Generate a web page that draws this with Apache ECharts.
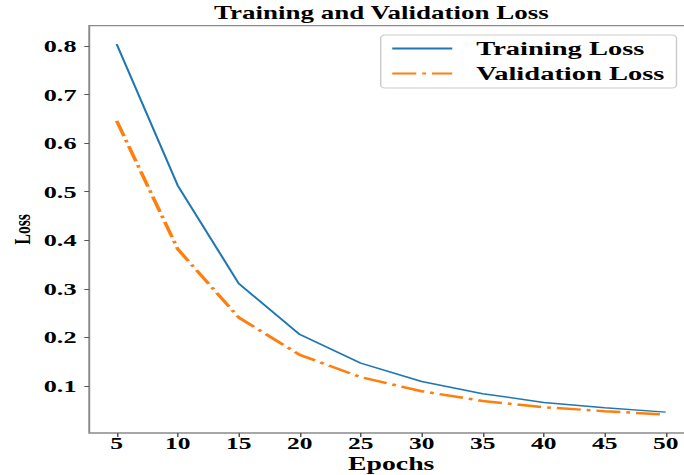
<!DOCTYPE html>
<html>
<head>
<meta charset="utf-8">
<script src="https://cdn.jsdelivr.net/npm/echarts@6/dist/echarts.min.js"></script>
<style>
html,body{margin:0;padding:0;background:#fff;overflow:hidden;width:684px;height:475px}
#wrap{width:684px;height:475px;overflow:hidden;position:relative;background:#fff}
#c{width:456px;height:475px;transform:scaleX(1.5);transform-origin:0 0}
</style>
</head>
<body>
<div id="wrap"><div id="c"></div></div>
<script>
// Data
const epochs = [5, 10, 15, 20, 25, 30, 35, 40, 45, 50];
const trainingLoss = [0.804, 0.513, 0.311, 0.206, 0.147, 0.109, 0.084, 0.066, 0.055, 0.046];
const validationLoss = [0.646, 0.382, 0.241, 0.164, 0.118, 0.089, 0.069, 0.056, 0.048, 0.041];
const xTicks = [5, 10, 15, 20, 25, 30, 35, 40, 45, 50];
const yTicks = [0.1, 0.2, 0.3, 0.4, 0.5, 0.6, 0.7, 0.8];

const FONT = "'Liberation Serif', 'Times New Roman', serif";
const pairs = (xs, ys) => xs.map((x, i) => [x, ys[i]]);

const chart = echarts.init(document.getElementById('c'), null, { renderer: 'svg' });
chart.setOption({
  backgroundColor: '#ffffff',
  animation: false,
  title: {
    text: 'Training and Validation Loss',
    left: 142.7,
    top: 4,
    padding: 0,
    textStyle: { fontFamily: FONT, fontWeight: 'bold', fontSize: 18, color: '#000', lineHeight: 18 }
  },
  legend: {
    orient: 'vertical',
    left: 253.8,
    top: 35,
    padding: [4, 8, 5, 6.7],
    itemGap: 6,
    itemWidth: 40,
    itemHeight: 14,
    backgroundColor: 'rgba(255,255,255,0.85)',
    borderColor: '#cccccc',
    borderWidth: 1,
    borderRadius: 3,
    itemStyle: { color: 'transparent', borderColor: 'transparent', borderWidth: 0, opacity: 0 },
    textStyle: { fontFamily: FONT, fontWeight: 'bold', fontSize: 19, color: '#000', lineHeight: 19, padding: [0, 0, 0, 11] },
    data: ['Training Loss', 'Validation Loss']
  },
  grid: {
    left: 59.5,
    top: 25.7,
    width: 402.6,
    height: 407.3,
    outerBoundsMode: 'none',
    containLabel: false,
    show: true,
    borderColor: '#8a8a8a',
    borderWidth: 1.3,
    backgroundColor: 'transparent'
  },
  xAxis: {
    type: 'value',
    min: 2.75,
    max: 52.25,
    name: 'Epochs',
    nameLocation: 'middle',
    nameGap: 22.5,
    nameMoveOverlap: false,
    nameTextStyle: { fontFamily: FONT, fontWeight: 'bold', fontSize: 18.5, color: '#000', lineHeight: 17 },
    axisLine: { show: false },
    splitLine: { show: false },
    axisTick: { show: true, inside: false, length: 4, customValues: xTicks, lineStyle: { color: '#555', width: 1 } },
    axisLabel: { customValues: xTicks, margin: 3, fontFamily: FONT, fontWeight: 'bold', fontSize: 17, lineHeight: 15, color: '#000' }
  },
  yAxis: {
    type: 'value',
    min: 0.003,
    max: 0.842,
    name: 'Loss',
    nameLocation: 'middle',
    nameGap: 37,
    nameMoveOverlap: false,
    nameTextStyle: { fontFamily: FONT, fontWeight: 'bold', fontSize: 15.5, color: '#000', lineHeight: 15.5 },
    axisLine: { show: false },
    splitLine: { show: false },
    axisTick: { show: true, inside: false, length: 3.3, customValues: yTicks, lineStyle: { color: '#555', width: 1 } },
    axisLabel: { customValues: yTicks, margin: 8.5, fontFamily: FONT, fontWeight: 'bold', fontSize: 17.5, color: '#000',
      formatter: v => v.toFixed(1) }
  },
  series: [
    {
      name: 'Training Loss',
      type: 'line',
      data: pairs(epochs, trainingLoss),
      symbol: 'none',
      color: '#1f77b4',
      lineStyle: { color: '#1f77b4', width: 1.5, type: 'solid' }
    },
    {
      name: 'Validation Loss',
      type: 'line',
      data: pairs(epochs, validationLoss),
      symbol: 'none',
      color: '#ff7f0e',
      lineStyle: { color: '#ff7f0e', width: 2.5, type: [16, 4, 2.5, 4] }
    }
  ]
});
</script>
</body>
</html>
